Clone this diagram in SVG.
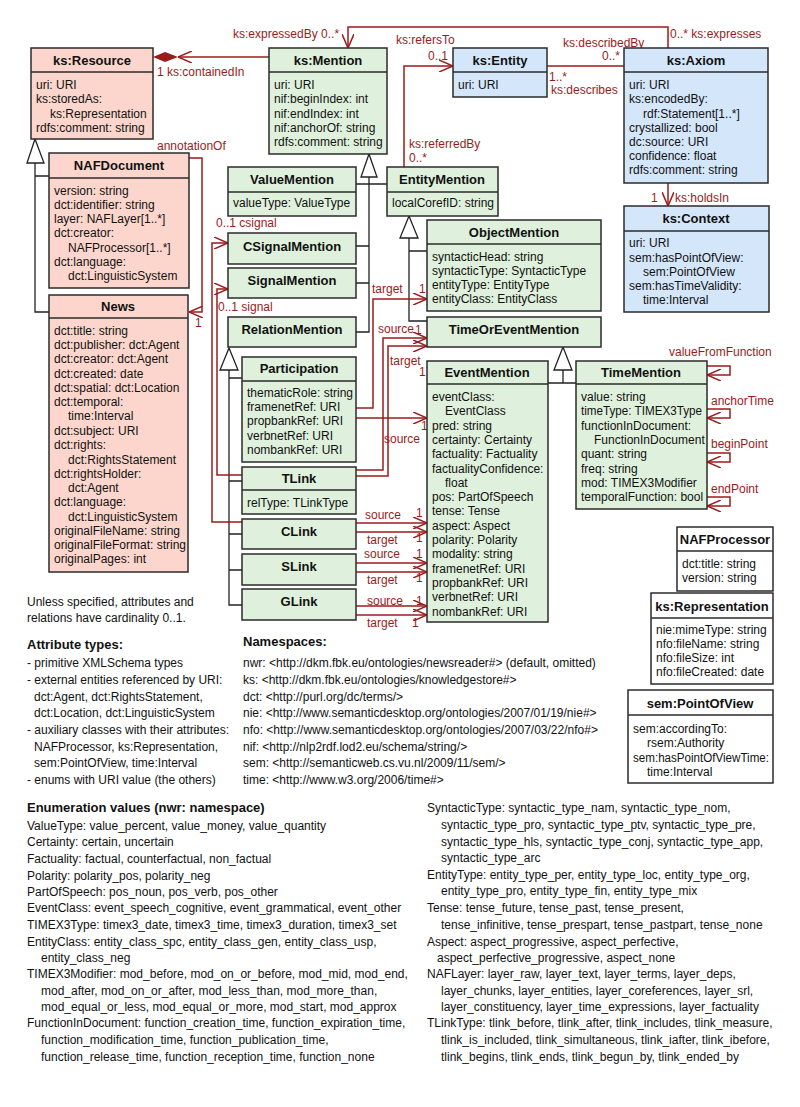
<svg xmlns="http://www.w3.org/2000/svg" width="800" height="1107" viewBox="0 0 800 1107">
<defs>
<style>
.box{stroke:#2b2b2b;stroke-width:1.5}
.pink{fill:#fcd6cc}.green{fill:#dff0dc}.blue{fill:#d4e6fa}.white{fill:#fff}
.div{stroke:#2b2b2b;stroke-width:1.3}
text{font-family:"Liberation Sans",Arial,sans-serif;font-size:12px;fill:#111}
.h{font-weight:bold;font-size:13px;text-anchor:middle}
.bh{font-weight:bold;font-size:13px}
.r{fill:#9b1b1b}
.conn{fill:none;stroke:#9b1b1b;stroke-width:1.5}
.gen{fill:none;stroke:#222;stroke-width:1.3}
.tri{fill:#fff;stroke:#222;stroke-width:1.3}
</style>
<marker id="arr" viewBox="0 0 14 12" markerWidth="14" markerHeight="12" refX="14" refY="6" orient="auto" markerUnits="userSpaceOnUse">
<path d="M0,0 L14,6 L0,12" fill="none" stroke="#9b1b1b" stroke-width="1.5"/>
</marker>
</defs>
<rect width="800" height="1107" fill="#fff"/>

<!-- generalizations -->
<g id="generalizations">
<path class="gen" d="M35,163 V312 H49 M35,176 H49"/>
<polygon class="tri" points="35,139 27,163 44,163"/>
<path class="gen" d="M369,177 V332 H356 M356,184 H387 M356,246 H369 M356,283 H369"/>
<polygon class="tri" points="369,154 361,177 377,177"/>
<path class="gen" d="M409,238 V321 H427 M409,251 H427"/>
<polygon class="tri" points="409,216 400,238 418,238"/>
<path class="gen" d="M229,370 V605 H242 M229,378 H242 M229,481 H242 M229,534 H242 M229,570 H242"/>
<polygon class="tri" points="229,348 220,370 238,370"/>
<path class="gen" d="M563,370 V383 M548,383 H576"/>
<polygon class="tri" points="563,347 554,370 572,370"/>
</g>

<!-- connectors -->
<g id="connectors">
<path class="conn" d="M269,57 H178" marker-end="url(#arr)"/>
<polygon points="153,57 165,52 178,57 165,62" fill="#9b1b1b"/>
<path class="conn" d="M668,48 V27 H348 V48" marker-end="url(#arr)"/>
<path class="conn" d="M404,167 V66 H453" marker-end="url(#arr)"/>
<path class="conn" d="M547,66 H624"/>
<path class="conn" d="M668,183 V206" marker-end="url(#arr)"/>
<path class="conn" d="M189,158 H202 V312 H189" marker-end="url(#arr)"/>
<path class="conn" d="M242,522 H212 V243 H228" marker-end="url(#arr)"/>
<path class="conn" d="M242,475 H217 V289 H228" marker-end="url(#arr)"/>
<path class="conn" d="M356,408 H373 V299 H427" marker-end="url(#arr)"/>
<path class="conn" d="M356,418 H427" marker-end="url(#arr)"/>
<path class="conn" d="M356,470 H383 V338 H427" marker-end="url(#arr)"/>
<path class="conn" d="M356,476 H388 V346 H427" marker-end="url(#arr)"/>
<path class="conn" d="M356,523 H427" marker-end="url(#arr)"/>
<path class="conn" d="M356,532 H427" marker-end="url(#arr)"/>
<path class="conn" d="M356,563 H427" marker-end="url(#arr)"/>
<path class="conn" d="M356,572 H427" marker-end="url(#arr)"/>
<path class="conn" d="M356,606 H427" marker-end="url(#arr)"/>
<path class="conn" d="M356,615 H427" marker-end="url(#arr)"/>
<path class="conn" d="M707,366 H730 V375 H707" marker-end="url(#arr)"/>
<path class="conn" d="M707,409 H730 V418 H707" marker-end="url(#arr)"/>
<path class="conn" d="M707,453 H730 V462 H707" marker-end="url(#arr)"/>
<path class="conn" d="M707,497 H730 V506 H707" marker-end="url(#arr)"/>
<text class="r" x="233" y="38">ks:expressedBy 0..*</text>
<text class="r" x="670" y="38">0..* ks:expresses</text>
<text class="r" x="157" y="76">1 ks:containedIn</text>
<text class="r" x="396" y="44">ks:refersTo</text>
<text class="r" x="428" y="60">0..1</text>
<text class="r" x="563" y="47">ks:describedBy</text>
<text class="r" x="602" y="60">0..*</text>
<text class="r" x="549" y="81">1..*</text>
<text class="r" x="551" y="94">ks:describes</text>
<text class="r" x="409" y="148">ks:referredBy</text>
<text class="r" x="409" y="162">0..*</text>
<text class="r" x="651" y="202">1</text>
<text class="r" x="675" y="202">ks:holdsIn</text>
<text class="r" x="157" y="150">annotationOf</text>
<text class="r" x="195" y="327">1</text>
<text class="r" x="216" y="227">0..1 csignal</text>
<text class="r" x="218" y="311">0..1 signal</text>
<text class="r" x="372" y="293">target</text>
<text class="r" x="419" y="293">1</text>
<text class="r" x="378" y="333">source</text>
<text class="r" x="415" y="334">1</text>
<text class="r" x="390" y="365">target</text>
<text class="r" x="419" y="376">1</text>
<text class="r" x="384" y="443">source</text>
<text class="r" x="421" y="430">1</text>
<text class="r" x="365" y="519">source</text>
<text class="r" x="416" y="517">1</text>
<text class="r" x="367" y="544">target</text>
<text class="r" x="416" y="542">1</text>
<text class="r" x="364" y="558">source</text>
<text class="r" x="416" y="558">1</text>
<text class="r" x="367" y="584">target</text>
<text class="r" x="416" y="582">1</text>
<text class="r" x="367" y="605">source</text>
<text class="r" x="416" y="605">1</text>
<text class="r" x="367" y="627">target</text>
<text class="r" x="412" y="627">1</text>
<text class="r" x="669" y="356">valueFromFunction</text>
<text class="r" x="711" y="405">anchorTime</text>
<text class="r" x="711" y="448">beginPoint</text>
<text class="r" x="711" y="493">endPoint</text>
</g>

<g id="ks-resource">
<rect class="box pink" x="31" y="48" width="122" height="91"/>
<line class="div" x1="31" y1="72" x2="153" y2="72"/>
<text class="h" x="92" y="65">ks:Resource</text>
<text x="36" y="89">uri: URI</text>
<text x="36" y="103">ks:storedAs:</text>
<text x="50" y="118">ks:Representation</text>
<text x="36" y="132">rdfs:comment: string</text>
</g>

<g id="ks-mention">
<rect class="box green" x="269" y="48" width="118" height="106"/>
<line class="div" x1="269" y1="72" x2="387" y2="72"/>
<text class="h" x="328" y="65">ks:Mention</text>
<text x="274" y="89">uri: URI</text>
<text x="274" y="103">nif:beginIndex: int</text>
<text x="274" y="118">nif:endIndex: int</text>
<text x="274" y="132">nif:anchorOf: string</text>
<text x="274" y="146">rdfs:comment: string</text>
</g>

<g id="ks-entity">
<rect class="box blue" x="453" y="48" width="94" height="49"/>
<line class="div" x1="453" y1="72" x2="547" y2="72"/>
<text class="h" x="500" y="65">ks:Entity</text>
<text x="458" y="89">uri: URI</text>
</g>

<g id="ks-axiom">
<rect class="box blue" x="624" y="48" width="144" height="135"/>
<line class="div" x1="624" y1="72" x2="768" y2="72"/>
<text class="h" x="696" y="65">ks:Axiom</text>
<text x="629" y="89">uri: URI</text>
<text x="629" y="103">ks:encodedBy:</text>
<text x="643" y="118">rdf:Statement[1..*]</text>
<text x="629" y="132">crystallized: bool</text>
<text x="629" y="146">dc:source: URI</text>
<text x="629" y="160">confidence: float</text>
<text x="629" y="174">rdfs:comment: string</text>
</g>

<g id="ks-context">
<rect class="box blue" x="624" y="206" width="145" height="106"/>
<line class="div" x1="624" y1="231" x2="769" y2="231"/>
<text class="h" x="696" y="223">ks:Context</text>
<text x="629" y="247">uri: URI</text>
<text x="629" y="262">sem:hasPointOfView:</text>
<text x="643" y="276">sem:PointOfView</text>
<text x="629" y="290">sem:hasTimeValidity:</text>
<text x="643" y="304">time:Interval</text>
</g>

<g id="naf-document">
<rect class="box pink" x="49" y="153" width="140" height="135"/>
<line class="div" x1="49" y1="178" x2="189" y2="178"/>
<text class="h" x="119" y="170">NAFDocument</text>
<text x="54" y="195">version: string</text>
<text x="54" y="209">dct:identifier: string</text>
<text x="54" y="223">layer: NAFLayer[1..*]</text>
<text x="54" y="237">dct:creator:</text>
<text x="68" y="252">NAFProcessor[1..*]</text>
<text x="54" y="266">dct:language:</text>
<text x="68" y="280">dct:LinguisticSystem</text>
</g>

<g id="news">
<rect class="box pink" x="49" y="295" width="139" height="277"/>
<line class="div" x1="49" y1="318" x2="188" y2="318"/>
<text class="h" x="118" y="311">News</text>
<text x="54" y="335">dct:title: string</text>
<text x="54" y="349">dct:publisher: dct:Agent</text>
<text x="54" y="363">dct:creator: dct:Agent</text>
<text x="54" y="378">dct:created: date</text>
<text x="54" y="392">dct:spatial: dct:Location</text>
<text x="54" y="406">dct:temporal:</text>
<text x="68" y="420">time:Interval</text>
<text x="54" y="435">dct:subject: URI</text>
<text x="54" y="449">dct:rights:</text>
<text x="68" y="464">dct:RightsStatement</text>
<text x="54" y="478">dct:rightsHolder:</text>
<text x="68" y="492">dct:Agent</text>
<text x="54" y="506">dct:language:</text>
<text x="68" y="521">dct:LinguisticSystem</text>
<text x="54" y="535">originalFileName: string</text>
<text x="54" y="549">originalFileFormat: string</text>
<text x="54" y="563">originalPages: int</text>
</g>

<g id="value-mention">
<rect class="box green" x="228" y="167" width="128" height="49"/>
<line class="div" x1="228" y1="192" x2="356" y2="192"/>
<text class="h" x="292" y="184">ValueMention</text>
<text x="233" y="207">valueType: ValueType</text>
</g>

<g id="entity-mention">
<rect class="box green" x="387" y="167" width="111" height="49"/>
<line class="div" x1="387" y1="192" x2="498" y2="192"/>
<text class="h" x="442" y="184">EntityMention</text>
<text x="392" y="207">localCorefID: string</text>
</g>

<g id="csignal-mention">
<rect class="box green" x="228" y="233" width="128" height="31"/>
<text class="h" x="292" y="251">CSignalMention</text>
</g>

<g id="signal-mention">
<rect class="box green" x="228" y="268" width="128" height="30"/>
<text class="h" x="292" y="285">SignalMention</text>
</g>

<g id="relation-mention">
<rect class="box green" x="228" y="317" width="128" height="30"/>
<text class="h" x="292" y="334">RelationMention</text>
</g>

<g id="participation">
<rect class="box green" x="242" y="357" width="114" height="105"/>
<line class="div" x1="242" y1="381" x2="356" y2="381"/>
<text class="h" x="299" y="373">Participation</text>
<text x="247" y="397">thematicRole: string</text>
<text x="247" y="411">framenetRef: URI</text>
<text x="247" y="425">propbankRef: URI</text>
<text x="247" y="440">verbnetRef: URI</text>
<text x="247" y="454">nombankRef: URI</text>
</g>

<g id="tlink">
<rect class="box green" x="242" y="467" width="114" height="47"/>
<line class="div" x1="242" y1="490" x2="356" y2="490"/>
<text class="h" x="299" y="483">TLink</text>
<text x="247" y="507">relType: TLinkType</text>
</g>

<g id="clink">
<rect class="box green" x="242" y="519" width="114" height="30"/>
<text class="h" x="299" y="536">CLink</text>
</g>

<g id="slink">
<rect class="box green" x="242" y="554" width="114" height="31"/>
<text class="h" x="299" y="571">SLink</text>
</g>

<g id="glink">
<rect class="box green" x="242" y="589" width="114" height="31"/>
<text class="h" x="299" y="606">GLink</text>
</g>

<g id="object-mention">
<rect class="box green" x="427" y="220" width="174" height="91"/>
<line class="div" x1="427" y1="244" x2="601" y2="244"/>
<text class="h" x="514" y="237">ObjectMention</text>
<text x="432" y="261">syntacticHead: string</text>
<text x="432" y="275">syntacticType: SyntacticType</text>
<text x="432" y="289">entityType: EntityType</text>
<text x="432" y="303">entityClass: EntityClass</text>
</g>

<g id="time-or-event-mention">
<rect class="box green" x="427" y="317" width="174" height="30"/>
<text class="h" x="514" y="334">TimeOrEventMention</text>
</g>

<g id="event-mention">
<rect class="box green" x="427" y="361" width="121" height="261"/>
<line class="div" x1="427" y1="384" x2="548" y2="384"/>
<text class="h" x="487" y="377">EventMention</text>
<text x="432" y="401">eventClass:</text>
<text x="445" y="415">EventClass</text>
<text x="432" y="430">pred: string</text>
<text x="432" y="444">certainty: Certainty</text>
<text x="432" y="458">factuality: Factuality</text>
<text x="432" y="473">factualityConfidence:</text>
<text x="445" y="487">float</text>
<text x="432" y="501">pos: PartOfSpeech</text>
<text x="432" y="515">tense: Tense</text>
<text x="432" y="530">aspect: Aspect</text>
<text x="432" y="544">polarity: Polarity</text>
<text x="432" y="558">modality: string</text>
<text x="432" y="573">framenetRef: URI</text>
<text x="432" y="587">propbankRef: URI</text>
<text x="432" y="601">verbnetRef: URI</text>
<text x="432" y="616">nombankRef: URI</text>
</g>

<g id="time-mention">
<rect class="box green" x="576" y="361" width="131" height="148"/>
<line class="div" x1="576" y1="384" x2="707" y2="384"/>
<text class="h" x="641" y="377">TimeMention</text>
<text x="581" y="401">value: string</text>
<text x="581" y="415" textLength="121" lengthAdjust="spacingAndGlyphs">timeType: TIMEX3Type</text>
<text x="581" y="430">functionInDocument:</text>
<text x="594" y="444">FunctionInDocument</text>
<text x="581" y="458">quant: string</text>
<text x="581" y="473">freq: string</text>
<text x="581" y="487">mod: TIMEX3Modifier</text>
<text x="581" y="501">temporalFunction: bool</text>
</g>

<g id="naf-processor">
<rect class="box white" x="677" y="527" width="96" height="64"/>
<line class="div" x1="677" y1="551" x2="773" y2="551"/>
<text class="h" x="725" y="544">NAFProcessor</text>
<text x="682" y="568">dct:title: string</text>
<text x="682" y="582">version: string</text>
</g>

<g id="ks-representation">
<rect class="box white" x="651" y="593" width="122" height="91"/>
<line class="div" x1="651" y1="618" x2="773" y2="618"/>
<text class="h" x="712" y="611">ks:Representation</text>
<text x="656" y="634">nie:mimeType: string</text>
<text x="656" y="648">nfo:fileName: string</text>
<text x="656" y="662">nfo:fileSize: int</text>
<text x="656" y="676">nfo:fileCreated: date</text>
</g>

<g id="sem-pointofview">
<rect class="box white" x="628" y="690" width="145" height="93"/>
<line class="div" x1="628" y1="715" x2="773" y2="715"/>
<text class="h" x="700" y="708">sem:PointOfView</text>
<text x="633" y="733">sem:accordingTo:</text>
<text x="647" y="747">rsem:Authority</text>
<text x="633" y="762" textLength="136" lengthAdjust="spacingAndGlyphs">sem:hasPointOfViewTime:</text>
<text x="647" y="776">time:Interval</text>
</g>

<g id="notes">
<text x="27" y="606">Unless specified, attributes and</text>
<text x="27" y="622">relations have cardinality 0..1.</text>
<text class="bh" x="27" y="649">Attribute types:</text>
<text x="27" y="667">- primitive XMLSchema types</text>
<text x="27" y="684">- external entities referenced by URI:</text>
<text x="34" y="701">dct:Agent, dct:RightsStatement,</text>
<text x="34" y="717">dct:Location, dct:LinguisticSystem</text>
<text x="27" y="734">- auxiliary classes with their attributes:</text>
<text x="34" y="751">NAFProcessor, ks:Representation,</text>
<text x="34" y="767">sem:PointOfView, time:Interval</text>
<text x="27" y="784">- enums with URI value (the others)</text>
<text class="bh" x="243" y="646">Namespaces:</text>
<text x="243" y="667">nwr: &lt;http://dkm.fbk.eu/ontologies/newsreader#&gt; (default, omitted)</text>
<text x="243" y="684">ks: &lt;http://dkm.fbk.eu/ontologies/knowledgestore#&gt;</text>
<text x="243" y="701">dct: &lt;http://purl.org/dc/terms/&gt;</text>
<text x="243" y="717">nie: &lt;http://www.semanticdesktop.org/ontologies/2007/01/19/nie#&gt;</text>
<text x="243" y="734">nfo: &lt;http://www.semanticdesktop.org/ontologies/2007/03/22/nfo#&gt;</text>
<text x="243" y="751">nif: &lt;http://nlp2rdf.lod2.eu/schema/string/&gt;</text>
<text x="243" y="767">sem: &lt;http://semanticweb.cs.vu.nl/2009/11/sem/&gt;</text>
<text x="243" y="784">time: &lt;http://www.w3.org/2006/time#&gt;</text>
<text class="bh" x="27" y="812">Enumeration values (nwr: namespace)</text>
<text x="27" y="830">ValueType: value_percent, value_money, value_quantity</text>
<text x="27" y="846">Certainty: certain, uncertain</text>
<text x="27" y="863">Factuality: factual, counterfactual, non_factual</text>
<text x="27" y="880">Polarity: polarity_pos, polarity_neg</text>
<text x="27" y="896">PartOfSpeech: pos_noun, pos_verb, pos_other</text>
<text x="27" y="912">EventClass: event_speech_cognitive, event_grammatical, event_other</text>
<text x="27" y="929">TIMEX3Type: timex3_date, timex3_time, timex3_duration, timex3_set</text>
<text x="27" y="946">EntityClass: entity_class_spc, entity_class_gen, entity_class_usp,</text>
<text x="41" y="962">entity_class_neg</text>
<text x="27" y="978">TIMEX3Modifier: mod_before, mod_on_or_before, mod_mid, mod_end,</text>
<text x="41" y="995">mod_after, mod_on_or_after, mod_less_than, mod_more_than,</text>
<text x="41" y="1011">mod_equal_or_less, mod_equal_or_more, mod_start, mod_approx</text>
<text x="27" y="1027">FunctionInDocument: function_creation_time, function_expiration_time,</text>
<text x="41" y="1044">function_modification_time,  function_publication_time,</text>
<text x="41" y="1061">function_release_time, function_reception_time, function_none</text>
<text x="427" y="812">SyntacticType: syntactic_type_nam, syntactic_type_nom,</text>
<text x="441" y="829">syntactic_type_pro, syntactic_type_ptv, syntactic_type_pre,</text>
<text x="441" y="846">syntactic_type_hls, syntactic_type_conj, syntactic_type_app,</text>
<text x="441" y="862">syntactic_type_arc</text>
<text x="427" y="879">EntityType: entity_type_per, entity_type_loc, entity_type_org,</text>
<text x="441" y="895">entity_type_pro, entity_type_fin, entity_type_mix</text>
<text x="427" y="912">Tense: tense_future, tense_past, tense_present,</text>
<text x="441" y="929">tense_infinitive, tense_prespart, tense_pastpart, tense_none</text>
<text x="427" y="946">Aspect: aspect_progressive, aspect_perfective,</text>
<text x="437" y="962">aspect_perfective_progressive, aspect_none</text>
<text x="427" y="978">NAFLayer: layer_raw, layer_text, layer_terms, layer_deps,</text>
<text x="441" y="995">layer_chunks, layer_entities, layer_coreferences, layer_srl,</text>
<text x="441" y="1011">layer_constituency, layer_time_expressions, layer_factuality</text>
<text x="427" y="1027">TLinkType: tlink_before, tlink_after, tlink_includes, tlink_measure,</text>
<text x="441" y="1044">tlink_is_included, tlink_simultaneous, tlink_iafter, tlink_ibefore,</text>
<text x="441" y="1061">tlink_begins, tlink_ends, tlink_begun_by, tlink_ended_by</text>
</g>
</svg>
